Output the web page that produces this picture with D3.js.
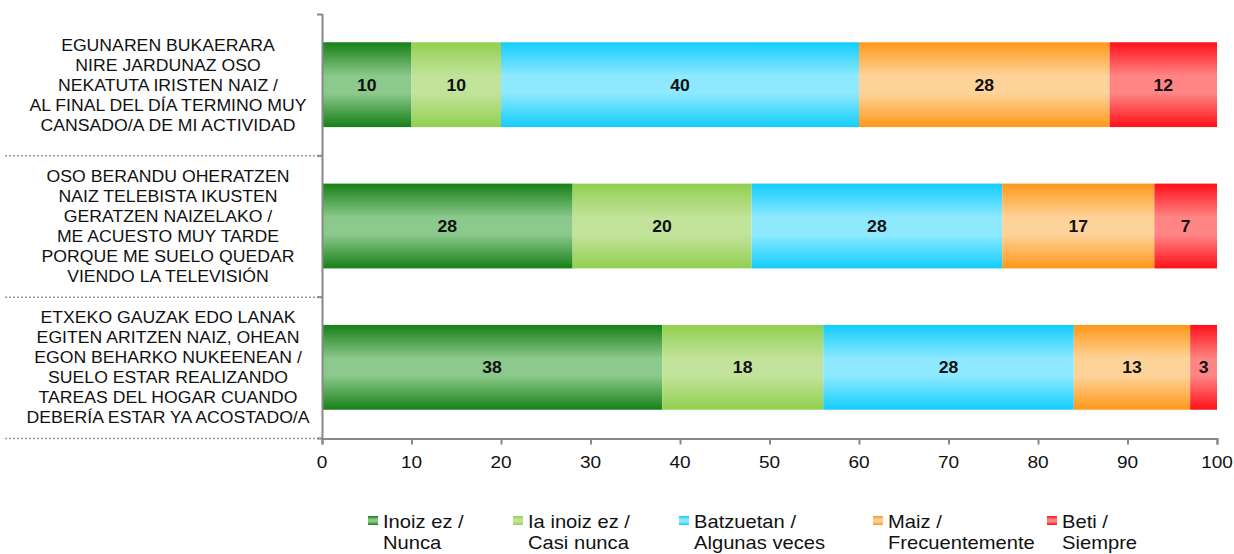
<!DOCTYPE html>
<html><head><meta charset="utf-8">
<script src="https://cdn.jsdelivr.net/npm/d3@7"></script>
<style>body{margin:0;background:#fff}svg{display:block;font-family:"Liberation Sans",Arial,sans-serif}</style>
</head><body><svg id="c" width="1234" height="554"></svg>
<script>
const categories = [
 ["EGUNAREN BUKAERARA","NIRE JARDUNAZ OSO","NEKATUTA IRISTEN NAIZ /","AL FINAL DEL DÍA TERMINO MUY","CANSADO/A DE MI ACTIVIDAD"],
 ["OSO BERANDU OHERATZEN","NAIZ TELEBISTA IKUSTEN","GERATZEN NAIZELAKO /","ME ACUESTO MUY TARDE","PORQUE ME SUELO QUEDAR","VIENDO LA TELEVISIÓN"],
 ["ETXEKO GAUZAK EDO LANAK","EGITEN ARITZEN NAIZ, OHEAN","EGON BEHARKO NUKEENEAN /","SUELO ESTAR REALIZANDO","TAREAS DEL HOGAR CUANDO","DEBERÍA ESTAR YA ACOSTADO/A"]
];
const seriesNames = [["Inoiz ez /","Nunca"],["Ia inoiz ez /","Casi nunca"],["Batzuetan /","Algunas veces"],["Maiz /","Frecuentemente"],["Beti /","Siempre"]];
const nunca = [10,28,38];
const casiNunca = [10,20,18];
const algunas = [40,28,28];
const frecuente = [28,17,13];
const siempre = [12,7,3];
const xTicks = [0,10,20,30,40,50,60,70,80,90,100];
const values = [nunca,casiNunca,algunas,frecuente,siempre];
const edgeC = ["#168016","#92d050","#12cdfd","#ff981a","#ff1018"];
const midC  = ["#8cc98c","#c2e39a","#8ee9ff","#fed39a","#ff8585"];

const svg = d3.select("#c");
const x = d3.scaleLinear().domain([0,100]).range([322,1217]);
const y = d3.scaleBand().domain(d3.range(categories.length)).range([14,438]).paddingInner(0.4).paddingOuter(0.2);
const band = d3.scaleBand().domain(d3.range(categories.length)).range([14,438]);

function stxt(parent, tx, ty, str, size, sx, opts={}){
  const t = parent.append("text").attr("transform",`translate(${tx},${ty}) scale(${sx},1)`)
    .attr("x",0).attr("y",0).attr("font-size",size).attr("fill","#111")
    .attr("text-anchor",opts.anchor||"start");
  if(opts.bold) t.attr("font-weight","bold");
  t.text(str);
  return t;
}

const defs = svg.append("defs");
edgeC.forEach((c,i)=>{
  const g = defs.append("linearGradient").attr("id","g"+i).attr("x1",0).attr("x2",0).attr("y1",0).attr("y2",1);
  g.append("stop").attr("offset","0%").attr("stop-color",c);
  g.append("stop").attr("offset","40%").attr("stop-color",midC[i]);
  g.append("stop").attr("offset","60%").attr("stop-color",midC[i]);
  g.append("stop").attr("offset","100%").attr("stop-color",c);
});

// separators
const seps = [band(1), band(2), 438];
svg.selectAll("line.sep").data(seps).enter().append("line")
  .attr("x1",5).attr("x2",322).attr("y1",d=>d+0.5).attr("y2",d=>d+0.5)
  .attr("stroke","#999").attr("stroke-width",1.5).attr("stroke-dasharray","2,2");

// bars
const stack = d3.stack().keys(d3.range(5)).value((d,k)=>values[k][d]);
const layers = stack(d3.range(categories.length));
layers.forEach((layer,k)=>{
  const g = svg.append("g");
  g.selectAll("rect").data(layer).enter().append("rect")
    .attr("x",d=>x(d[0])).attr("width",d=>x(d[1])-x(d[0]))
    .attr("y",(d,i)=>y(i)).attr("height",y.bandwidth())
    .attr("fill","url(#g"+k+")");
  layer.forEach((d,i)=>{
    stxt(g,(x(d[0])+x(d[1]))/2, y(i)+y.bandwidth()/2+6, String(d[1]-d[0]), 16, 1.1, {anchor:"middle",bold:true});
  });
});

// y axis line
svg.append("line").attr("x1",322.5).attr("x2",322.5).attr("y1",14).attr("y2",440).attr("stroke","#888").attr("stroke-width",2);
svg.selectAll("line.yt").data([14,band(1),band(2),438]).enter().append("line")
  .attr("x1",317).attr("x2",322).attr("y1",d=>d+0.5).attr("y2",d=>d+0.5).attr("stroke","#888").attr("stroke-width",2);

// x axis
const xa = svg.append("g").attr("transform","translate(0,438.5)")
  .call(d3.axisBottom(x).tickValues(xTicks).tickSize(6).tickFormat(""));
xa.select(".domain").attr("stroke","#888").attr("stroke-width",2);
xa.selectAll(".tick line").attr("stroke","#888").attr("stroke-width",2);
xTicks.forEach(v=>stxt(svg, x(v), 468, String(v), 17, 1.12, {anchor:"middle"}));

// category labels
categories.forEach((lines,i)=>{
  const cy = y(i)+y.bandwidth()/2;
  const n = lines.length;
  lines.forEach((l,j)=>{
    stxt(svg, 168, cy + (j-(n-1)/2)*20 + 6, l, 16.5, 1.07, {anchor:"middle"});
  });
});

// legend
const legX = [368,513,679,873,1047];
seriesNames.forEach((nm,i)=>{
  const g = svg.append("g");
  g.append("rect").attr("x",legX[i]).attr("y",516).attr("width",10).attr("height",9).attr("fill","url(#g"+i+")");
  stxt(g, legX[i]+15, 528, nm[0], 18, 1.12);
  stxt(g, legX[i]+15, 549, nm[1], 18, 1.12);
});
</script></body></html>
